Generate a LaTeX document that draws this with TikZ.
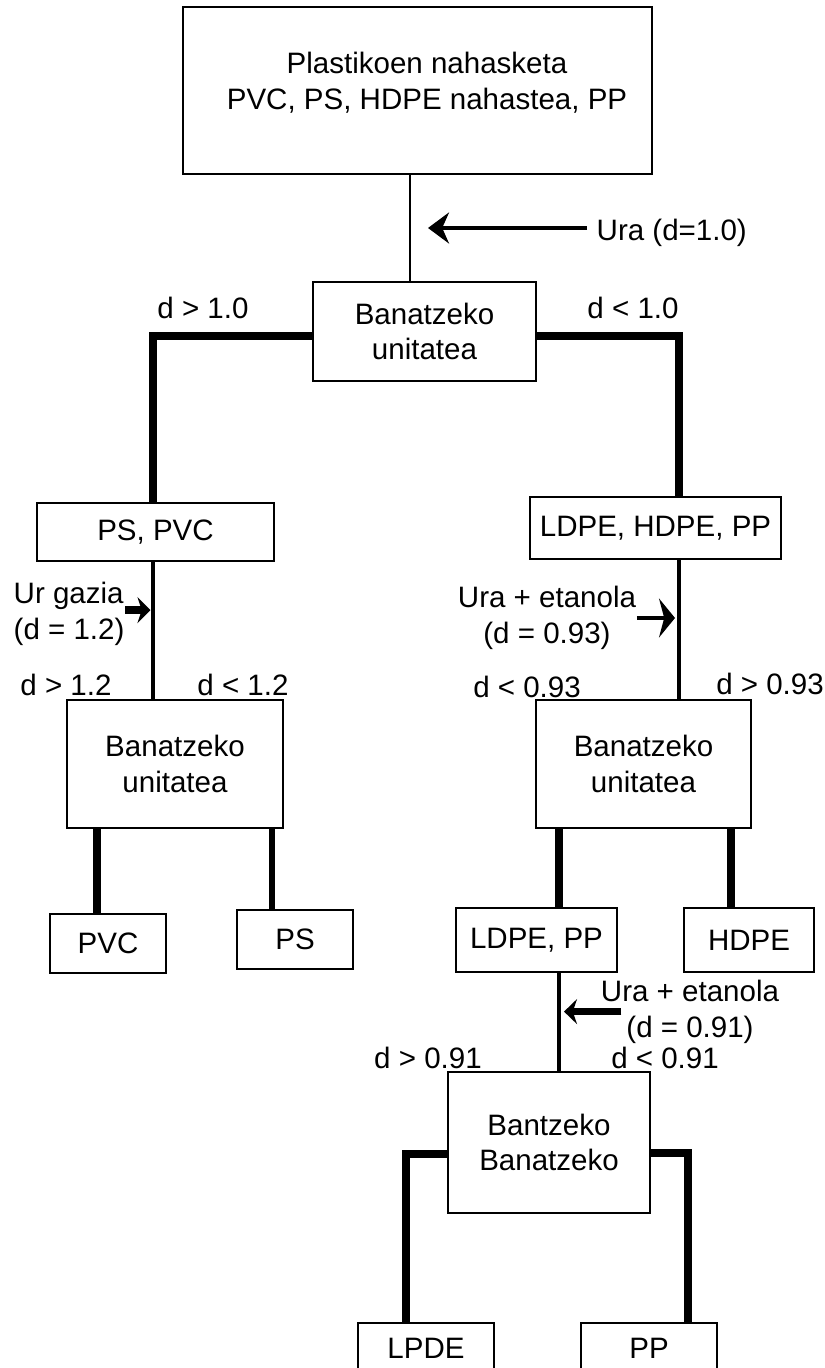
\documentclass[tikz,border=0pt]{standalone}
\usepackage{fontspec}
\setmainfont{Liberation Sans}
\usetikzlibrary{arrows.meta}

\begin{document}
\begin{tikzpicture}[x=0.1mm, y=-0.1mm,
    font=\fontsize{8.4pt}{10.2pt}\selectfont,
    box/.style={draw, line width=0.4pt, inner sep=0pt, align=center},
    lbl/.style={inner sep=0pt, align=center},
    thinline/.style={line width=0.6pt},
    midline/.style={line width=1.4pt},
    thickline/.style={line width=2.3pt}]
    \useasboundingbox (0,0) rectangle (824,1368);
    \clip (0,0) rectangle (824,1368);

    \node[box, minimum width=46.9mm, minimum height=16.7mm] (mix) at (417.5,90.5) {};
    \node[lbl] (mixtext) at (427,83) {Plastikoen nahasketa\\ PVC, PS, HDPE nahastea, PP};
    \node[box, minimum width=22.3mm, minimum height=9.9mm] (sepA) at (424.5,331.5) {Banatzeko\\unitatea};
    \node[box, minimum width=23.7mm, minimum height=5.8mm] (pspvc) at (155.5,532) {PS, PVC};
    \node[box, minimum width=25.1mm, minimum height=6.2mm] (lhp) at (655.5,528) {LDPE, HDPE, PP};
    \node[box, minimum width=21.6mm, minimum height=12.8mm] (sepB) at (175,764) {Banatzeko\\unitatea};
    \node[box, minimum width=21.5mm, minimum height=12.8mm] (sepC) at (643.5,764) {Banatzeko\\unitatea};
    \node[box, minimum width=11.6mm, minimum height=5.9mm] (pvc) at (108,943.5) {PVC};
    \node[box, minimum width=11.6mm, minimum height=5.9mm] (ps) at (295,939.5) {PS};
    \node[box, minimum width=16.1mm, minimum height=6.4mm] (lp) at (536.5,940) {LDPE, PP};
    \node[box, minimum width=13mm, minimum height=6.4mm] (hdpe) at (749,940) {HDPE};
    \node[box, minimum width=20.2mm, minimum height=14.1mm] (sepD) at (549,1142.5) {Bantzeko\\Banatzeko};
    \node[box, minimum width=13.6mm, minimum height=5mm] (lpde) at (426,1348) {LPDE};
    \node[box, minimum width=13.6mm, minimum height=5mm] (pp) at (649,1348) {PP};

    \node[lbl] (gt10) at (203,308) {d > 1.0};
    \node[lbl] (lt10) at (633,308) {d < 1.0};
    \node[lbl] (gt12) at (66,685) {d > 1.2};
    \node[lbl] (lt12) at (243,685) {d < 1.2};
    \node[lbl] (lt093) at (527,687) {d < 0.93};
    \node[lbl] (gt093) at (770,684) {d > 0.93};
    \node[lbl] (gt091) at (428,1058) {d > 0.91};
    \node[lbl] (lt091) at (665,1058) {d < 0.91};

    \node[lbl, anchor=west, inner xsep=0.9mm] (water) at (587,233) {Ura (d=1.0)};
    \node[lbl, align=left, anchor=west] (brine) at (13,613.6) {Ur gazia\\(d = 1.2)};
    \node[lbl] (etoh93) at (547,618) {Ura + etanola\\(d = 0.93)};
    \node[lbl] (etoh91) at (690,1011.6) {Ura + etanola\\(d = 0.91)};

    \draw[thinline] ([xshift=-0.75mm]mix.south) -- ([xshift=-0.75mm]mix.south |- sepA.north);
    \draw[thickline] ([yshift=-0.45mm]sepA.west) -| ([xshift=-0.25mm]pspvc.north);
    \draw[thickline] ([yshift=-0.45mm]sepA.east) -| ([xshift=2.35mm]lhp.north);
    \draw[midline] ([xshift=-0.25mm]pspvc.south) -- ([xshift=-0.25mm]pspvc.south |- sepB.north);
    \draw[midline] ([xshift=2.35mm]lhp.south) -- ([xshift=2.35mm]lhp.south |- sepC.north);
    \draw[thickline] ([xshift=-7.8mm]sepB.south) -- ([xshift=-7.8mm]sepB.south |- pvc.north);
    \draw[line width=1.7pt] ([xshift=9.7mm]sepB.south) -- ([xshift=9.7mm]sepB.south |- ps.north);
    \draw[thickline] ([xshift=-8.45mm]sepC.south) -- ([xshift=-8.45mm]sepC.south |- lp.north);
    \draw[thickline] ([xshift=8.75mm]sepC.south) -- ([xshift=8.75mm]sepC.south |- hdpe.north);
    \draw[midline] ([xshift=2.25mm]lp.south) -- ([xshift=2.25mm]lp.south |- sepD.north);
    \draw[thickline] ([yshift=-1.15mm]sepD.west) -| ([xshift=-2mm]lpde.north);
    \draw[thickline] ([yshift=-1.05mm]sepD.east) -| ([xshift=3.9mm]pp.north);

    \draw[line width=1.3pt, -{Stealth[length=2.1mm, width=3.1mm]}] ([yshift=0.5mm]water.west) -- ([yshift=0.5mm, xshift=0.35mm]water.west -| sepA.north);
    \draw[line width=2.4pt, -{Stealth[length=1.3mm, width=2.6mm]}] ([yshift=0.35mm]brine.east) -- ([yshift=0.35mm, xshift=-0.5mm]brine.east -| pspvc.south);
    \draw[line width=1.3pt, -{Stealth[length=1.6mm, width=3.9mm]}] (etoh93.east) -- ([xshift=1.95mm]etoh93.east -| lhp.south);
    \draw[line width=2pt, -{Stealth[length=1.3mm, width=2.5mm]}] ([xshift=2.1mm]etoh91.west) -- ([xshift=2.75mm]etoh91.west -| lp.south);
\end{tikzpicture}
\end{document}
